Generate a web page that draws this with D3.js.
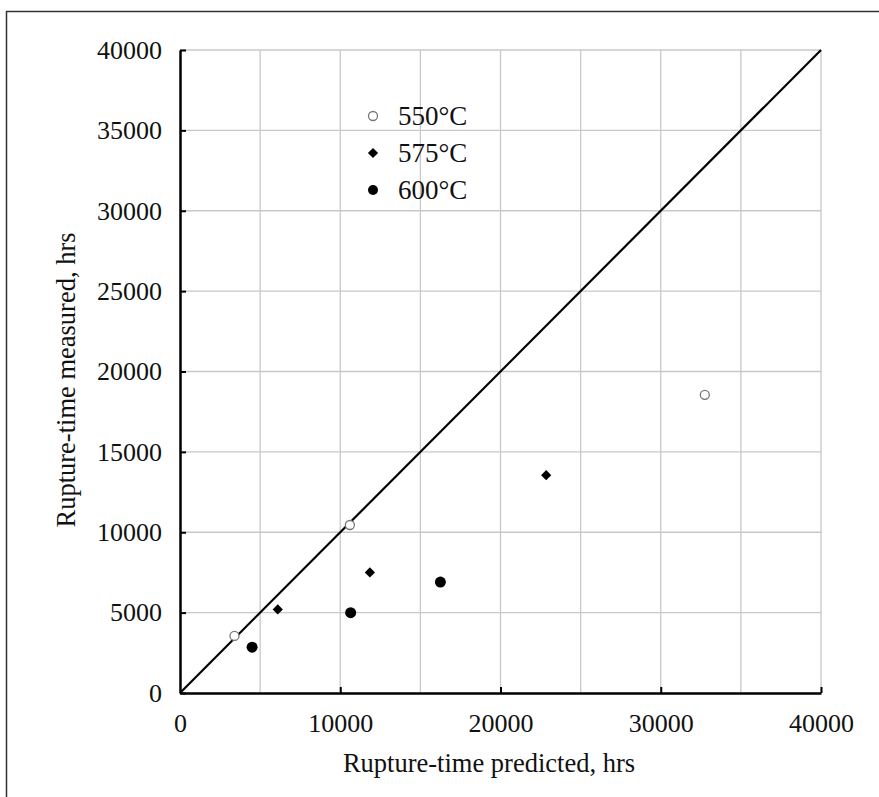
<!DOCTYPE html>
<html>
<head>
<meta charset="utf-8">
<script src="https://d3js.org/d3.v7.min.js"></script>
<style>
  body { margin: 0; background: #fff; }
  svg text { font-family: "Liberation Serif", "DejaVu Serif", serif; fill: #111; }
  .grid line { stroke: #c8c8c8; stroke-width: 1.3; }
</style>
</head>
<body>
<div id="chart"></div>
<script>
// values (hrs)
var ticks = [0, 5000, 10000, 15000, 20000, 25000, 30000, 35000, 40000];
var xTicks = [0, 10000, 20000, 30000, 40000];
var seriesNames = ["550\u00b0C", "575\u00b0C", "600\u00b0C"];
var pred550 = [3400, 10600, 32750];
var meas550 = [3550, 10450, 18550];
var pred575 = [6100, 11850, 22850];
var meas575 = [5200, 7500, 13550];
var pred600 = [4500, 10650, 16250];
var meas600 = [2850, 5000, 6900];

var svg = d3.select("#chart").append("svg").attr("width", 879).attr("height", 797),
    margin = {top: 50, left: 180},
    width = 641,
    height = 643;

// frame
svg.append("path")
    .attr("d", "M6.5,797 V11.5 H879")
    .attr("fill", "none")
    .attr("stroke", "#333")
    .attr("stroke-width", 1.5);

var x = d3.scaleLinear().domain([0, 40000]).range([0, width]);
var y = d3.scaleLinear().domain([0, 40000]).range([height, 0]);

var g = svg.append("g")
    .attr("transform", "translate(" + margin.left + "," + margin.top + ")");

// grid
g.append("g").attr("class", "grid")
  .selectAll("line").data(ticks.slice(1)).enter().append("line")
    .attr("x1", 0).attr("x2", width)
    .attr("y1", function(d) { return y(d); }).attr("y2", function(d) { return y(d); });
g.append("g").attr("class", "grid")
  .selectAll("line").data(ticks.slice(1)).enter().append("line")
    .attr("y1", 0).attr("y2", height)
    .attr("x1", function(d) { return x(d); }).attr("x2", function(d) { return x(d); });

// axes
var yAxis = g.append("g")
    .call(d3.axisLeft(y).tickValues(ticks).tickSizeInner(-6).tickSizeOuter(0).tickPadding(18).tickFormat(d3.format("d")));
var xAxis = g.append("g")
    .attr("transform", "translate(0," + height + ")")
    .call(d3.axisBottom(x).tickValues(xTicks).tickSizeInner(-6).tickSizeOuter(0).tickPadding(21).tickFormat(d3.format("d")));

[yAxis, xAxis].forEach(function(a) {
  a.attr("font-family", null).attr("font-size", null);
  a.select(".domain").attr("stroke", "#000").attr("stroke-width", 2.5);
  a.selectAll(".tick line").attr("stroke", "#000").attr("stroke-width", 2);
  a.selectAll("text").style("font-size", "26px").attr("fill", "#111");
});
xAxis.selectAll(".tick").filter(function(d) { return d === 0; }).select("line").remove();

// 1:1 line
g.append("line")
    .attr("x1", x(0)).attr("y1", y(0))
    .attr("x2", x(40000)).attr("y2", y(40000))
    .attr("stroke", "#000").attr("stroke-width", 2.2);

var diamond = d3.symbol().type(d3.symbolSquare).size(52);

// 550
g.selectAll(".p550").data(pred550).enter().append("circle")
    .attr("cx", function(d) { return x(d); })
    .attr("cy", function(d, i) { return y(meas550[i]); })
    .attr("r", 4.5)
    .attr("fill", "#fff").attr("stroke", "#777").attr("stroke-width", 1.3);

// 575
g.selectAll(".p575").data(pred575).enter().append("path")
    .attr("d", diamond)
    .attr("transform", function(d, i) { return "translate(" + x(d) + "," + y(meas575[i]) + ") rotate(45)"; })
    .attr("fill", "#000");

// 600
g.selectAll(".p600").data(pred600).enter().append("circle")
    .attr("cx", function(d) { return x(d); })
    .attr("cy", function(d, i) { return y(meas600[i]); })
    .attr("r", 5.5)
    .attr("fill", "#000");

// legend
var legend = svg.append("g").attr("transform", "translate(373,116)");
var rowH = 37;
legend.append("circle").attr("cx", 0).attr("cy", 0).attr("r", 4.5)
    .attr("fill", "#fff").attr("stroke", "#777").attr("stroke-width", 1.3);
legend.append("path").attr("d", diamond).attr("transform", "translate(0," + rowH + ") rotate(45)").attr("fill", "#000");
legend.append("circle").attr("cx", 0).attr("cy", rowH * 2).attr("r", 5).attr("fill", "#000");
legend.selectAll("text").data(seriesNames).enter().append("text")
    .attr("x", 25)
    .attr("y", function(d, i) { return i * rowH; })
    .attr("dy", "0.35em")
    .style("font-size", "27px")
    .text(function(d) { return d; });

// axis titles
svg.append("text")
    .attr("x", 489).attr("y", 772)
    .attr("text-anchor", "middle")
    .style("font-size", "26.5px")
    .text("Rupture-time predicted, hrs");

svg.append("text")
    .attr("transform", "translate(75,380) rotate(-90)")
    .attr("text-anchor", "middle")
    .style("font-size", "26.5px")
    .text("Rupture-time measured, hrs");
</script>
</body>
</html>
